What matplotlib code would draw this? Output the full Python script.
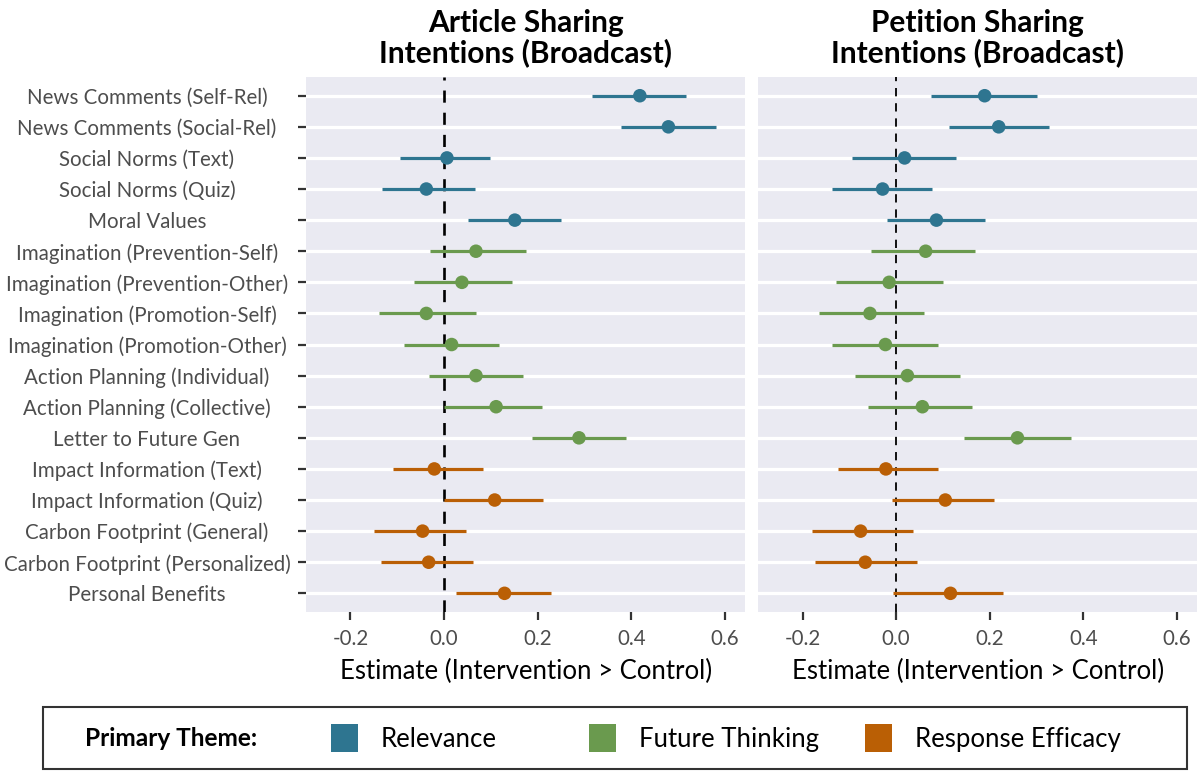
import matplotlib.pyplot as plt
import numpy as np
from matplotlib.patches import Patch, Rectangle

plt.rcParams['font.family'] = ['Lato', 'DejaVu Sans']

labels = ["News Comments (Self-Rel)", "News Comments (Social-Rel)", "Social Norms (Text)",
          "Social Norms (Quiz)", "Moral Values", "Imagination (Prevention-Self)",
          "Imagination (Prevention-Other)", "Imagination (Promotion-Self)",
          "Imagination (Promotion-Other)", "Action Planning (Individual)",
          "Action Planning (Collective)", "Letter to Future Gen", "Impact Information (Text)",
          "Impact Information (Quiz)", "Carbon Footprint (General)",
          "Carbon Footprint (Personalized)", "Personal Benefits"]
themes = ["Relevance"] * 5 + ["Future Thinking"] * 7 + ["Response Efficacy"] * 5

# article sharing
art_est = [0.418, 0.479, 0.006, -0.038, 0.151, 0.068, 0.038, -0.038, 0.016, 0.068,
           0.111, 0.288, -0.021, 0.108, -0.046, -0.033, 0.129]
art_lo = [0.316, 0.378, -0.094, -0.133, 0.050, -0.031, -0.064, -0.139, -0.085, -0.033,
          0.000, 0.187, -0.110, 0.000, -0.149, -0.135, 0.025]
art_hi = [0.517, 0.580, 0.098, 0.066, 0.249, 0.175, 0.146, 0.068, 0.118, 0.168,
          0.208, 0.389, 0.083, 0.211, 0.047, 0.061, 0.229]

# petition sharing
pet_est = [0.189, 0.219, 0.018, -0.029, 0.086, 0.063, -0.015, -0.056, -0.023, 0.024,
           0.056, 0.259, -0.022, 0.105, -0.076, -0.066, 0.116]
pet_lo = [0.074, 0.113, -0.094, -0.136, -0.020, -0.054, -0.128, -0.164, -0.138, -0.087,
          -0.061, 0.144, -0.125, -0.008, -0.179, -0.173, -0.006]
pet_hi = [0.300, 0.326, 0.127, 0.077, 0.190, 0.169, 0.101, 0.059, 0.090, 0.136,
          0.161, 0.373, 0.089, 0.209, 0.036, 0.044, 0.228]

palette = {"Relevance": "#2E7590", "Future Thinking": "#6A9A4E", "Response Efficacy": "#BA5F05"}
cols = [palette[t] for t in themes]

fig = plt.figure(figsize=(12, 7.73), dpi=100)
ax1 = fig.add_axes([0.255, 0.2083, 0.366, 0.692])
ax2 = fig.add_axes([0.6317, 0.2083, 0.366, 0.692])

y = np.arange(len(labels))[::-1]
panels = [(ax1, art_est, art_lo, art_hi, "Article Sharing\nIntentions (Broadcast)", 1.9),
          (ax2, pet_est, pet_lo, pet_hi, "Petition Sharing\nIntentions (Broadcast)", 1.3)]

for ax, est, lo, hi, title, dlw in panels:
    ax.set_facecolor('#EAEAF2')
    for s in ax.spines.values():
        s.set_visible(False)
    ax.set_axisbelow(True)
    ax.grid(axis='y', color='white', linewidth=2.3)
    ax.axvline(0, color='black', linewidth=dlw, linestyle=(0, (4.6, 3.8)), zorder=2)
    ax.hlines(y, lo, hi, colors=cols, linewidth=2.3, zorder=3)
    ax.scatter(est, y, s=95, c=cols, zorder=4, linewidths=0)
    ax.set_xlim(-0.295, 0.643)
    ax.set_ylim(-0.6, len(labels) - 0.4)
    ax.set_xticks([-0.2, 0.0, 0.2, 0.4, 0.6])
    ax.set_xticklabels(['-0.2', '0.0', '0.2', '0.4', '0.6'])
    ax.set_yticks(y)
    ax.tick_params(axis='x', length=5.5, width=1.6, color='#333333', labelsize=14.8,
                   labelcolor='#4D4D4D', pad=7)
    ax.tick_params(axis='y', length=6, width=1.6, color='#333333', labelsize=14.8,
                   labelcolor='#4D4D4D', pad=108.5)
    ax.set_xlabel("Estimate (Intervention > Control)", fontsize=18.5, color='black', labelpad=7)
    ax.set_title(title, fontsize=21.5, fontweight='bold', pad=11, linespacing=1.05)

ax1.set_yticklabels(labels)
for t in ax1.get_yticklabels():
    t.set_horizontalalignment('center')
ax2.set_yticklabels([])
ax2.tick_params(axis='y', length=0)

# legend box
fig.add_artist(Rectangle((0.036, 0.005), 0.953, 0.08, transform=fig.transFigure,
                         fill=False, edgecolor='#333333', linewidth=1.5))
fig.text(0.071, 0.045, "Primary Theme:", fontsize=17.6, fontweight='bold', va='center')
for name, xa in zip(palette, [0.2758, 0.4908, 0.7208]):
    fig.legend([Patch(facecolor=palette[name], edgecolor='none')], [name],
               loc='center left', bbox_to_anchor=(xa, 0.0453), frameon=False,
               fontsize=18.5, handlelength=1.05, handleheight=1.25, handletextpad=0.9,
               borderpad=0, borderaxespad=0)

fig.savefig("out.png", dpi=100)
